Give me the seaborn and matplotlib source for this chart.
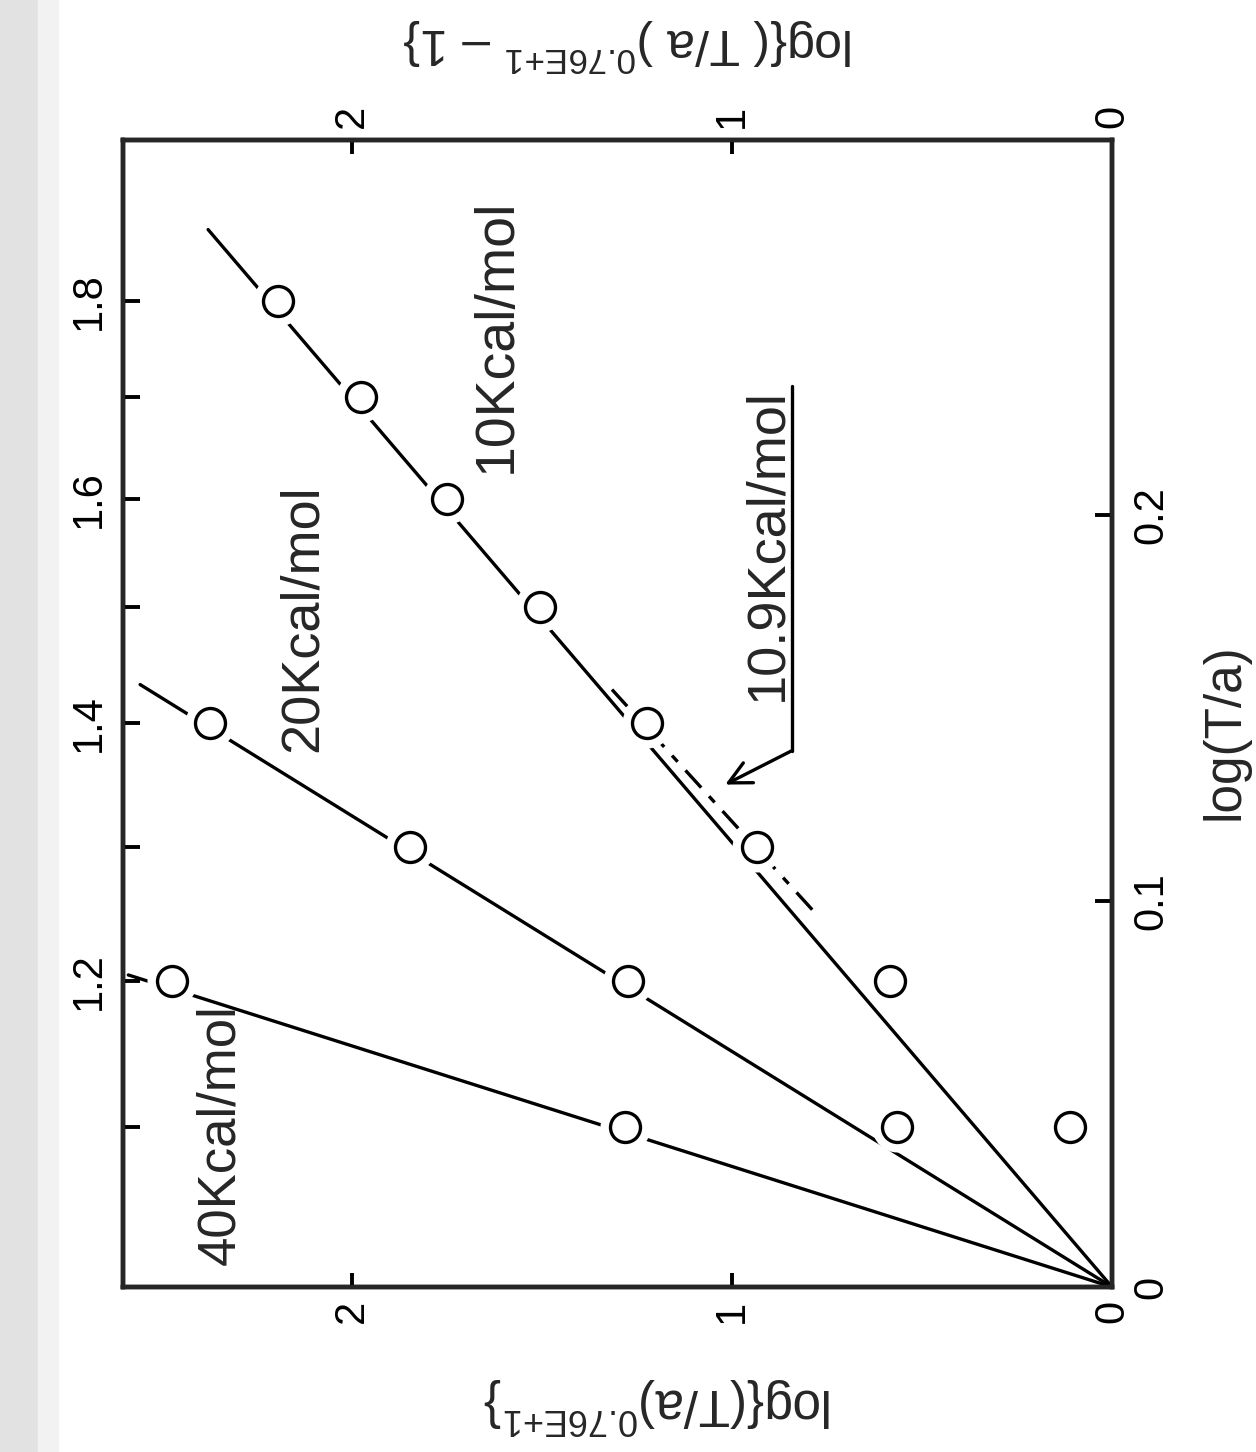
import numpy as np
import pandas as pd
import matplotlib
matplotlib.use("Agg")
import matplotlib.pyplot as plt
import seaborn as sns

# ---------------- data ----------------
# measured points: T/a and log{(T/a)^0.76E+1}
ta_10 = [1.3, 1.4, 1.5, 1.6, 1.7, 1.8]
y_10 = [0.935, 1.224, 1.505, 1.751, 1.976, 2.194]
ta_20 = [1.1, 1.2, 1.3, 1.4]
y_20 = [0.566, 1.274, 1.847, 2.374]
ta_40 = [1.1, 1.2]
y_40 = [1.282, 2.474]
ta_extra = [1.1, 1.2]
y_extra = [0.111, 0.584]

# theoretical lines: log(T/a) and log{...}
line_10_logta = [0.0, 0.2738]
line_10_y = [0.0, 2.379]
line_20_logta = [0.0, 0.156]
line_20_y = [0.0, 2.558]
line_40_logta = [0.0, 0.0808]
line_40_y = [0.0, 2.589]
line_109_logta = [0.0977, 0.1547]
line_109_y = [0.789, 1.316]

x_ticks = [0, 1, 2]
x_ticklabels = ["0", "1", "2"]
logta_ticks = [0.0, 0.1, 0.2]
logta_ticklabels = ["0", "0.1", "0.2"]
ta_major = [1.2, 1.4, 1.6, 1.8]
ta_major_labels = ["1.2", "1.4", "1.6", "1.8"]
ta_minor = [1.1, 1.3, 1.5, 1.7]

label_bottom = r"log{(T/a)$^{\mathrm{0.76E{+}1}}$}"
label_top = r"log{( T/a )$^{\mathrm{0.76E{+}1}}$ – 1}"
label_left = "(T/a)"
label_right = "log(T/a)"

# ---------------- style ----------------
sns.set_theme(style="white")
plt.rcParams["font.family"] = ["Liberation Sans", "DejaVu Sans"]
plt.rcParams["mathtext.fontset"] = "custom"
plt.rcParams["mathtext.rm"] = "Liberation Sans"
plt.rcParams["mathtext.it"] = "Liberation Sans"

fig = plt.figure(figsize=(12.56, 14.52), dpi=100)
fig.patch.set_facecolor("white")
# faint scanned-paper edge on the left
fig.patches.append(plt.Rectangle((0, 0), 0.030, 1, transform=fig.transFigure, color="#e2e2e2", zorder=0))
fig.patches.append(plt.Rectangle((0.030, 0), 0.016, 1, transform=fig.transFigure, color="#f2f2f2", zorder=0))

ax = fig.add_axes([0.09793, 0.11364, 0.78742, 0.78994])
ax.set_facecolor("white")

LW = 2.4
# lines
for lx, ly in [(line_10_y, line_10_logta), (line_20_y, line_20_logta), (line_40_y, line_40_logta)]:
    sns.lineplot(x=lx, y=ly, sort=False, estimator=None, color="black", lw=LW, ax=ax, zorder=2)
sns.lineplot(x=line_109_y, y=line_109_logta, sort=False, estimator=None, color="black", lw=LW,
             linestyle=(0, (7, 3.5, 2.5, 3.5)), ax=ax, zorder=2)

# points: white mask then hollow circle
for ta, yv in [(ta_10, y_10), (ta_20, y_20), (ta_40, y_40), (ta_extra, y_extra)]:
    df = pd.DataFrame({"y": yv, "logta": np.log10(ta)})
    sns.scatterplot(data=df, x="y", y="logta", s=1296, color="white", linewidth=0, ax=ax, zorder=3, legend=False)
    sns.scatterplot(data=df, x="y", y="logta", s=466, facecolor="white", edgecolor="black",
                    linewidth=LW, ax=ax, zorder=4, legend=False)

ax.set_xlim(2.603, 0)
ax.set_ylim(0, 0.297)

# axes / ticks
for sp in ax.spines.values():
    sp.set_linewidth(3.2)
    sp.set_color("black")
    sp.set_visible(True)

ax.set_xticks(x_ticks)
ax.set_xticklabels(x_ticklabels)
ax.tick_params(axis="x", which="both", direction="in", length=10, width=2.8, top=True, bottom=True,
               labeltop=True, labelbottom=True, labelrotation=90, labelsize=30, pad=9, colors="black")

ax.set_yticks(np.log10(ta_major))
ax.set_yticklabels(ta_major_labels)
ax.set_yticks(np.log10(ta_minor), minor=True)
ax.tick_params(axis="y", which="both", direction="in", length=12, width=2.8, left=True, right=False,
               labelleft=True, labelright=False, labelrotation=90, labelsize=30, pad=10, colors="black")
for t in ax.get_yticklabels():
    t.set_va("center")

axr = ax.twinx()
axr.set_ylim(ax.get_ylim())
axr.set_yticks(logta_ticks)
axr.set_yticklabels(logta_ticklabels)
axr.tick_params(axis="y", direction="in", length=12, width=2.8, labelrotation=90, labelsize=30, pad=14,
                colors="black")
for t in axr.get_yticklabels():
    t.set_va("center")
for sp in axr.spines.values():
    sp.set_linewidth(3.2)
axr.grid(False)
ax.grid(False)
ax.set_xlabel("")
ax.set_ylabel("")
axr.set_ylabel("")

# axis labels
ax.text(0.511, 1.083, label_top, transform=ax.transAxes, rotation=180, ha="center", va="center", fontsize=36)
ax.text(0.541, -0.103, label_bottom, transform=ax.transAxes, rotation=180, ha="center", va="center", fontsize=37)
ax.text(-0.091, 0.486, label_left, transform=ax.transAxes, rotation=90, ha="center", va="center", fontsize=35)
ax.text(1.114, 0.484, label_right, transform=ax.transAxes, rotation=90, ha="center", va="center", fontsize=37)

# annotations
ax.text(1.618, 0.2464, "10Kcal/mol", rotation=90, ha="center", va="center", fontsize=40)
ax.text(2.129, 0.1733, "20Kcal/mol", rotation=90, ha="center", va="center", fontsize=39)
ax.text(2.347, 0.0394, "40Kcal/mol", rotation=90, ha="center", va="center", fontsize=38)
ax.text(0.908, 0.1922, "10.9Kcal/mol", rotation=90, ha="center", va="center", fontsize=39)
ax.plot([0.842, 0.842], [0.2332, 0.1389], color="black", lw=LW)
ax.annotate("", xy=(1.018, 0.1301), xytext=(0.842, 0.1389),
            arrowprops=dict(arrowstyle="->", lw=LW, color="black", mutation_scale=40,
                            shrinkA=0, shrinkB=0))

fig.savefig("out.png", dpi=100, facecolor="white")
